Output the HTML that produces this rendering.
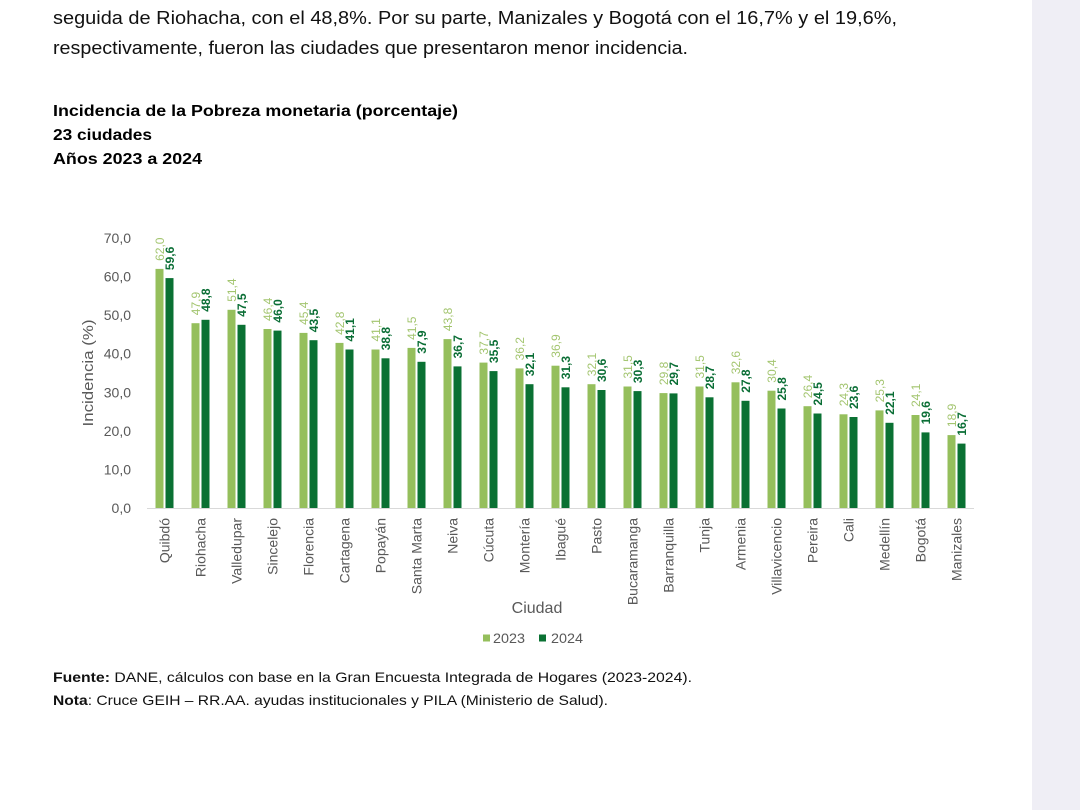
<!DOCTYPE html>
<html><head><meta charset="utf-8"><style>
html,body{margin:0;padding:0;background:#fff;}
svg{display:block;}
</style></head><body>
<svg width="1080" height="810" viewBox="0 0 1080 810" xmlns="http://www.w3.org/2000/svg" font-family="Liberation Sans, sans-serif">
<rect x="0" y="0" width="1080" height="810" fill="#ffffff"/>
<rect x="1032" y="0" width="48" height="810" fill="#efeef5"/>

<!-- paragraph -->
<text x="53" y="24" font-size="18" fill="#111" textLength="844" lengthAdjust="spacingAndGlyphs">seguida de Riohacha, con el 48,8%.  Por su parte, Manizales y Bogotá con el 16,7% y el 19,6%,</text>
<text x="53" y="54" font-size="18" fill="#111" textLength="635" lengthAdjust="spacingAndGlyphs">respectivamente, fueron las ciudades que presentaron menor incidencia.</text>

<!-- title -->
<text x="53" y="116" font-size="16" font-weight="bold" fill="#000" textLength="405" lengthAdjust="spacingAndGlyphs">Incidencia de la Pobreza monetaria (porcentaje)</text>
<text x="53" y="140" font-size="16" font-weight="bold" fill="#000" textLength="99" lengthAdjust="spacingAndGlyphs">23 ciudades</text>
<text x="53" y="164" font-size="16" font-weight="bold" fill="#000" textLength="149" lengthAdjust="spacingAndGlyphs">Años 2023 a 2024</text>

<!-- y ticks -->
<g font-size="14" fill="#595959" text-anchor="end">
<text x="131" y="513">0,0</text>
<text x="131" y="474.4">10,0</text>
<text x="131" y="435.9">20,0</text>
<text x="131" y="397.3">30,0</text>
<text x="131" y="358.7">40,0</text>
<text x="131" y="320.2">50,0</text>
<text x="131" y="281.6">60,0</text>
<text x="131" y="243">70,0</text>
</g>
<text transform="translate(93,373) rotate(-90)" font-size="15" fill="#595959" text-anchor="middle" textLength="107" lengthAdjust="spacingAndGlyphs">Incidencia  (%)</text>

<!-- axis -->
<line x1="147" y1="508.5" x2="974" y2="508.5" stroke="#d9d9d9" stroke-width="1"/>

<!-- bars -->
<g fill="#95bf5c">
<rect x="155.5" y="268.9" width="8" height="239.1"/>
<rect x="191.5" y="323.2" width="8" height="184.8"/>
<rect x="227.5" y="309.8" width="8" height="198.2"/>
<rect x="263.5" y="329.0" width="8" height="179.0"/>
<rect x="299.5" y="332.9" width="8" height="175.1"/>
<rect x="335.5" y="342.9" width="8" height="165.1"/>
<rect x="371.5" y="349.5" width="8" height="158.5"/>
<rect x="407.5" y="347.9" width="8" height="160.1"/>
<rect x="443.5" y="339.1" width="8" height="168.9"/>
<rect x="479.5" y="362.6" width="8" height="145.4"/>
<rect x="515.5" y="368.4" width="8" height="139.6"/>
<rect x="551.5" y="365.7" width="8" height="142.3"/>
<rect x="587.5" y="384.2" width="8" height="123.8"/>
<rect x="623.5" y="386.5" width="8" height="121.5"/>
<rect x="659.5" y="393.1" width="8" height="114.9"/>
<rect x="695.5" y="386.5" width="8" height="121.5"/>
<rect x="731.5" y="382.3" width="8" height="125.7"/>
<rect x="767.5" y="390.7" width="8" height="117.3"/>
<rect x="803.5" y="406.2" width="8" height="101.8"/>
<rect x="839.5" y="414.3" width="8" height="93.7"/>
<rect x="875.5" y="410.4" width="8" height="97.6"/>
<rect x="911.5" y="415.0" width="8" height="93.0"/>
<rect x="947.5" y="435.1" width="8" height="72.9"/>
</g>
<g fill="#0a7133">
<rect x="165.5" y="278.1" width="8" height="229.9"/>
<rect x="201.5" y="319.8" width="8" height="188.2"/>
<rect x="237.5" y="324.8" width="8" height="183.2"/>
<rect x="273.5" y="330.6" width="8" height="177.4"/>
<rect x="309.5" y="340.2" width="8" height="167.8"/>
<rect x="345.5" y="349.5" width="8" height="158.5"/>
<rect x="381.5" y="358.3" width="8" height="149.7"/>
<rect x="417.5" y="361.8" width="8" height="146.2"/>
<rect x="453.5" y="366.4" width="8" height="141.6"/>
<rect x="489.5" y="371.1" width="8" height="136.9"/>
<rect x="525.5" y="384.2" width="8" height="123.8"/>
<rect x="561.5" y="387.3" width="8" height="120.7"/>
<rect x="597.5" y="390.0" width="8" height="118.0"/>
<rect x="633.5" y="391.1" width="8" height="116.9"/>
<rect x="669.5" y="393.4" width="8" height="114.6"/>
<rect x="705.5" y="397.3" width="8" height="110.7"/>
<rect x="741.5" y="400.8" width="8" height="107.2"/>
<rect x="777.5" y="408.5" width="8" height="99.5"/>
<rect x="813.5" y="413.5" width="8" height="94.5"/>
<rect x="849.5" y="417.0" width="8" height="91.0"/>
<rect x="885.5" y="422.8" width="8" height="85.2"/>
<rect x="921.5" y="432.4" width="8" height="75.6"/>
<rect x="957.5" y="443.6" width="8" height="64.4"/>
</g>

<!-- 2023 labels -->
<g font-size="12" fill="#a3c56f">
<text transform="translate(163.8,260.9) rotate(-90)">62,0</text>
<text transform="translate(199.8,315.2) rotate(-90)">47,9</text>
<text transform="translate(235.8,301.8) rotate(-90)">51,4</text>
<text transform="translate(271.8,321.0) rotate(-90)">46,4</text>
<text transform="translate(307.8,324.9) rotate(-90)">45,4</text>
<text transform="translate(343.8,334.9) rotate(-90)">42,8</text>
<text transform="translate(379.8,341.5) rotate(-90)">41,1</text>
<text transform="translate(415.8,339.9) rotate(-90)">41,5</text>
<text transform="translate(451.8,331.1) rotate(-90)">43,8</text>
<text transform="translate(487.8,354.6) rotate(-90)">37,7</text>
<text transform="translate(523.8,360.4) rotate(-90)">36,2</text>
<text transform="translate(559.8,357.7) rotate(-90)">36,9</text>
<text transform="translate(595.8,376.2) rotate(-90)">32,1</text>
<text transform="translate(631.8,378.5) rotate(-90)">31,5</text>
<text transform="translate(667.8,385.1) rotate(-90)">29,8</text>
<text transform="translate(703.8,378.5) rotate(-90)">31,5</text>
<text transform="translate(739.8,374.3) rotate(-90)">32,6</text>
<text transform="translate(775.8,382.7) rotate(-90)">30,4</text>
<text transform="translate(811.8,398.2) rotate(-90)">26,4</text>
<text transform="translate(847.8,406.3) rotate(-90)">24,3</text>
<text transform="translate(883.8,402.4) rotate(-90)">25,3</text>
<text transform="translate(919.8,407.0) rotate(-90)">24,1</text>
<text transform="translate(955.8,427.1) rotate(-90)">18,9</text>
</g>
<!-- 2024 labels -->
<g font-size="12" font-weight="bold" fill="#0a6e35">
<text transform="translate(173.8,270.1) rotate(-90)">59,6</text>
<text transform="translate(209.8,311.8) rotate(-90)">48,8</text>
<text transform="translate(245.8,316.8) rotate(-90)">47,5</text>
<text transform="translate(281.8,322.6) rotate(-90)">46,0</text>
<text transform="translate(317.8,332.2) rotate(-90)">43,5</text>
<text transform="translate(353.8,341.5) rotate(-90)">41,1</text>
<text transform="translate(389.8,350.3) rotate(-90)">38,8</text>
<text transform="translate(425.8,353.8) rotate(-90)">37,9</text>
<text transform="translate(461.8,358.4) rotate(-90)">36,7</text>
<text transform="translate(497.8,363.1) rotate(-90)">35,5</text>
<text transform="translate(533.8,376.2) rotate(-90)">32,1</text>
<text transform="translate(569.8,379.3) rotate(-90)">31,3</text>
<text transform="translate(605.8,382.0) rotate(-90)">30,6</text>
<text transform="translate(641.8,383.1) rotate(-90)">30,3</text>
<text transform="translate(677.8,385.4) rotate(-90)">29,7</text>
<text transform="translate(713.8,389.3) rotate(-90)">28,7</text>
<text transform="translate(749.8,392.8) rotate(-90)">27,8</text>
<text transform="translate(785.8,400.5) rotate(-90)">25,8</text>
<text transform="translate(821.8,405.5) rotate(-90)">24,5</text>
<text transform="translate(857.8,409.0) rotate(-90)">23,6</text>
<text transform="translate(893.8,414.8) rotate(-90)">22,1</text>
<text transform="translate(929.8,424.4) rotate(-90)">19,6</text>
<text transform="translate(965.8,435.6) rotate(-90)">16,7</text>
</g>

<!-- x labels -->
<g font-size="14" fill="#595959" text-anchor="end">
<text transform="translate(169.5,518) rotate(-90)">Quibdó</text>
<text transform="translate(205.5,518) rotate(-90)">Riohacha</text>
<text transform="translate(241.5,518) rotate(-90)">Valledupar</text>
<text transform="translate(277.5,518) rotate(-90)">Sincelejo</text>
<text transform="translate(313.5,518) rotate(-90)">Florencia</text>
<text transform="translate(349.5,518) rotate(-90)">Cartagena</text>
<text transform="translate(385.5,518) rotate(-90)">Popayán</text>
<text transform="translate(421.5,518) rotate(-90)">Santa Marta</text>
<text transform="translate(457.5,518) rotate(-90)">Neiva</text>
<text transform="translate(493.5,518) rotate(-90)">Cúcuta</text>
<text transform="translate(529.5,518) rotate(-90)">Montería</text>
<text transform="translate(565.5,518) rotate(-90)">Ibagué</text>
<text transform="translate(601.5,518) rotate(-90)">Pasto</text>
<text transform="translate(637.5,518) rotate(-90)">Bucaramanga</text>
<text transform="translate(673.5,518) rotate(-90)">Barranquilla</text>
<text transform="translate(709.5,518) rotate(-90)">Tunja</text>
<text transform="translate(745.5,518) rotate(-90)">Armenia</text>
<text transform="translate(781.5,518) rotate(-90)">Villavicencio</text>
<text transform="translate(817.5,518) rotate(-90)">Pereira</text>
<text transform="translate(853.5,518) rotate(-90)">Cali</text>
<text transform="translate(889.5,518) rotate(-90)">Medellín</text>
<text transform="translate(925.5,518) rotate(-90)">Bogotá</text>
<text transform="translate(961.5,518) rotate(-90)">Manizales</text>
</g>

<text x="537" y="613" font-size="16" fill="#595959" text-anchor="middle">Ciudad</text>

<!-- legend -->
<rect x="483" y="634.5" width="7" height="7" fill="#95bf5c"/>
<text x="493" y="643" font-size="14" fill="#595959" textLength="32" lengthAdjust="spacingAndGlyphs">2023</text>
<rect x="539" y="634.5" width="7" height="7" fill="#0a7133"/>
<text x="551" y="643" font-size="14" fill="#595959" textLength="32" lengthAdjust="spacingAndGlyphs">2024</text>

<!-- footer -->
<text x="53" y="682" font-size="14" fill="#111" textLength="639" lengthAdjust="spacingAndGlyphs"><tspan font-weight="bold">Fuente:</tspan> DANE, cálculos con base en la Gran Encuesta Integrada de Hogares (2023-2024).</text>
<text x="53" y="705" font-size="14" fill="#111" textLength="555" lengthAdjust="spacingAndGlyphs"><tspan font-weight="bold">Nota</tspan>: Cruce GEIH – RR.AA. ayudas institucionales y PILA (Ministerio de Salud).</text>
</svg>
</body></html>
